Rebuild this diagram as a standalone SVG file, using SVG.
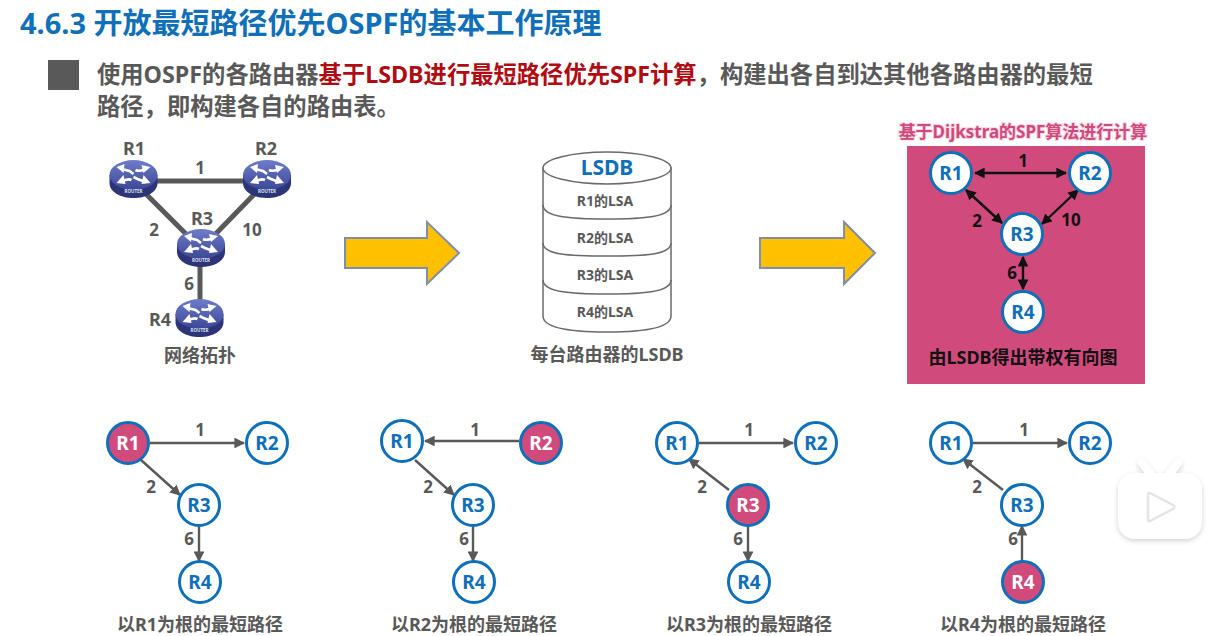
<svg xmlns="http://www.w3.org/2000/svg" width="1221" height="636" viewBox="0 0 1221 636">
<style>
text{font-family:"Noto Sans","Noto Sans CJK SC",sans-serif;font-weight:700;text-anchor:middle}
.grey{fill:#595959}
.blue{fill:#0f6fb8}
.lbl{font-size:17px}
.rn{font-size:18px}
.cap{font-size:18px;fill:#595959}
.lsa{font-size:14px;fill:#595959}
.n{fill:#fff;stroke:#0f6fb8;stroke-width:3}
.root{fill:#d04a7c;stroke:#0f6fb8;stroke-width:3}
.nt{font-size:19px;fill:#0f6fb8}
.rt{font-size:19px;fill:#fff}
.g{stroke:#595959;stroke-width:2.4;fill:none;marker-end:url(#ga)}
.k{stroke:#111;stroke-width:2.4;fill:none;marker-start:url(#ka);marker-end:url(#ka)}
.kl{fill:#111}
.link{stroke:#595959;stroke-width:5;fill:none}
.cyl{fill:#fff;stroke:#6a6a6a;stroke-width:1.5}
.arrow{fill:#ffc000;stroke:#7f8fa9;stroke-width:2}
</style>
<defs>
<marker id="ga" markerWidth="4.500" markerHeight="4.500" refX="4" refY="2.250" orient="auto"><path d="M0 0L4.500 2.250L0 4.500z" fill="#595959"/></marker>
<marker id="ka" markerWidth="4.500" markerHeight="4.500" refX="4" refY="2.250" orient="auto-start-reverse"><path d="M0 0L4.500 2.250L0 4.500z" fill="#111"/></marker>
<linearGradient id="rg" x1="0" y1="0" x2="0" y2="1"><stop offset="0" stop-color="#6e7cc9"/><stop offset="1" stop-color="#3c4796"/></linearGradient>
<filter id="soft" x="-20%" y="-20%" width="140%" height="140%"><feDropShadow dx="0" dy="2" stdDeviation="2.500" flood-color="#000" flood-opacity="0.180"/></filter>
<g id="router">
<path d="M-24-3V5C-24 14-13 20 0 20S24 14 24 5V-3z" fill="#2c3577"/>
<ellipse cx="0" cy="-3" rx="24" ry="15" fill="url(#rg)"/>
<g fill="none" stroke="#fff" stroke-width="2.600">
<path d="M-12-9L-4-7L0-4"/><path d="M12-9Q6-6 2-8"/><path d="M-12 4Q-6 0-2 2"/><path d="M12 4L4 1L0-1"/>
</g>
<g fill="#fff">
<path d="M-17-11L-9-14L-10-5z"/><path d="M17-11L8-13L10-5z"/><path d="M-17 5L-10-3L-8 6z"/><path d="M17 5L10-3L8 6z"/>
</g>
<text y="15" style="font-size:4.500px;fill:#dfe3f5">ROUTER</text>
</g>
</defs>
<rect width="1221" height="636" fill="#fff"/>

<text id="title" x="20" y="34" class="blue" style="font-size:29px;text-anchor:start">4.6.3 开放最短路径优先OSPF的基本工作原理</text>
<rect id="bullet" x="48" y="60" width="31" height="30" fill="#595959"/>
<text x="97" y="83" class="grey" style="font-size:23.300px;text-anchor:start">使用OSPF的各路由器<tspan fill="#b00a12">基于LSDB进行最短路径优先SPF计算</tspan>，构建出各自到达其他各路由器的最短</text>
<text x="97" y="115" class="grey" style="font-size:23.300px;text-anchor:start">路径，即构建各自的路由表。</text>

<!-- physical topology -->
<g id="topology-links">
<path class="link" d="M133 181H267M133 181L201 249M267 181L201 249M200 249V320"/>
</g>
<g id="topo-R1"><use href="#router" x="133.500" y="178"/><text x="134" y="155" class="rn grey">R1</text></g>
<g id="topo-R2"><use href="#router" x="267" y="178"/><text x="266" y="155" class="rn grey">R2</text></g>
<g id="topo-R3"><use href="#router" x="201" y="247"/><text x="202" y="225" class="rn grey">R3</text></g>
<g id="topo-R4"><use href="#router" x="199.500" y="317"/><text x="160" y="326" class="rn grey">R4</text></g>
<g id="topology-labels">
<text x="200" y="174" class="lbl grey">1</text>
<text x="154" y="236" class="lbl grey">2</text>
<text x="252" y="236" class="lbl grey">10</text>
<text x="189" y="290" class="lbl grey">6</text>
<text x="200" y="362" class="cap">网络拓扑</text>
</g>

<!-- block arrows -->
<path id="arrow-1" class="arrow" d="M345 238H427V222L459 253L427 284V268H345z"/>
<path id="arrow-2" class="arrow" d="M760 238H844V222L875 253L844 284V268H760z"/>

<!-- link state database drum -->
<g id="lsdb">
<path class="cyl" d="M543 168V316C543 328 570 332 607 332S671 328 671 316V168z"/>
<path class="cyl" style="fill:none" d="M543 205C543 217 570 219 607 219S671 217 671 205M543 243C543 255 570 256 607 256S671 255 671 243M543 280C543 292 570 294 607 294S671 292 671 280"/>
<ellipse class="cyl" cx="607" cy="168" rx="64" ry="16"/>
<text x="607" y="175" class="blue" style="font-size:21px">LSDB</text>
<text x="605" y="206" class="lsa">R1的LSA</text>
<text x="605" y="243" class="lsa">R2的LSA</text>
<text x="605" y="280" class="lsa">R3的LSA</text>
<text x="605" y="317" class="lsa">R4的LSA</text>
<text x="607" y="361" class="cap">每台路由器的LSDB</text>
</g>

<!-- weighted digraph panel -->
<g id="digraph">
<text x="1023" y="138" style="font-size:17px;fill:#d04a7c;stroke:#f6d9e4;stroke-width:2;paint-order:stroke">基于Dijkstra的SPF算法进行计算</text>
<rect x="907" y="146" width="238" height="238" fill="#d04a7c"/>
<path class="k" d="M975 173H1066"/>
<path class="k" d="M966 190L1002 223"/>
<path class="k" d="M1078 190L1042 224"/>
<path class="k" d="M1023 257V289"/>
<circle class="n" cx="951" cy="173" r="20.500"/><text class="nt" x="951" y="180">R1</text>
<circle class="n" cx="1090" cy="173" r="20.500"/><text class="nt" x="1090" y="180">R2</text>
<circle class="n" cx="1022" cy="234" r="20.500"/><text class="nt" x="1022" y="241">R3</text>
<circle class="n" cx="1023" cy="312" r="20.500"/><text class="nt" x="1023" y="319">R4</text>
<text x="1023" y="167" class="lbl kl">1</text>
<text x="977" y="227" class="lbl kl">2</text>
<text x="1071" y="226" class="lbl kl">10</text>
<text x="1012" y="279" class="lbl kl">6</text>
<text x="1023" y="364" class="kl" style="font-size:18px">由LSDB得出带权有向图</text>
</g>

<!-- shortest path tree rooted at R1 -->
<g id="tree-R1">
<path class="g" d="M150 443H244"/>
<path class="g" d="M141 460L180 495"/>
<path class="g" d="M199 525V561"/>
<circle class="root" cx="128" cy="443" r="20.500"/><text class="rt" x="128" y="450">R1</text>
<circle class="n" cx="267" cy="443" r="20.500"/><text class="nt" x="267" y="450">R2</text>
<circle class="n" cx="199" cy="505" r="20.500"/><text class="nt" x="199" y="512">R3</text>
<circle class="n" cx="200" cy="582" r="20.500"/><text class="nt" x="200" y="589">R4</text>
<text x="200" y="436" class="lbl grey">1</text>
<text x="151" y="493" class="lbl grey">2</text>
<text x="189" y="545" class="lbl grey">6</text>
<text x="200" y="631" class="cap">以R1为根的最短路径</text>
</g>
<!-- shortest path tree rooted at R2 -->
<g id="tree-R2">
<path class="g" d="M519 441H425"/>
<path class="g" d="M415 460L454 495"/>
<path class="g" d="M473 525V561"/>
<circle class="n" cx="402" cy="441" r="20.500"/><text class="nt" x="402" y="448">R1</text>
<circle class="root" cx="541" cy="443" r="20.500"/><text class="rt" x="541" y="450">R2</text>
<circle class="n" cx="473" cy="505" r="20.500"/><text class="nt" x="473" y="512">R3</text>
<circle class="n" cx="474" cy="582" r="20.500"/><text class="nt" x="474" y="589">R4</text>
<text x="475" y="436" class="lbl grey">1</text>
<text x="428" y="493" class="lbl grey">2</text>
<text x="464" y="545" class="lbl grey">6</text>
<text x="474" y="631" class="cap">以R2为根的最短路径</text>
</g>
<!-- shortest path tree rooted at R3 -->
<g id="tree-R3">
<path class="g" d="M699 443H793"/>
<path class="g" d="M729 490L689 459"/>
<path class="g" d="M748 526V561"/>
<circle class="n" cx="677" cy="443" r="20.500"/><text class="nt" x="677" y="450">R1</text>
<circle class="n" cx="816" cy="443" r="20.500"/><text class="nt" x="816" y="450">R2</text>
<circle class="root" cx="748" cy="505" r="20.500"/><text class="rt" x="748" y="512">R3</text>
<circle class="n" cx="749" cy="582" r="20.500"/><text class="nt" x="749" y="589">R4</text>
<text x="749" y="436" class="lbl grey">1</text>
<text x="702" y="493" class="lbl grey">2</text>
<text x="738" y="545" class="lbl grey">6</text>
<text x="749" y="631" class="cap">以R3为根的最短路径</text>
</g>
<!-- shortest path tree rooted at R4 -->
<g id="tree-R4">
<path class="g" d="M973 443H1067"/>
<path class="g" d="M1003 490L963 459"/>
<path class="g" d="M1022 561V526"/>
<circle class="n" cx="951" cy="443" r="20.500"/><text class="nt" x="951" y="450">R1</text>
<circle class="n" cx="1090" cy="443" r="20.500"/><text class="nt" x="1090" y="450">R2</text>
<circle class="n" cx="1022" cy="505" r="20.500"/><text class="nt" x="1022" y="512">R3</text>
<circle class="root" cx="1023" cy="582" r="20.500"/><text class="rt" x="1023" y="589">R4</text>
<text x="1024" y="436" class="lbl grey">1</text>
<text x="977" y="493" class="lbl grey">2</text>
<text x="1013" y="545" class="lbl grey">6</text>
<text x="1023" y="631" class="cap">以R4为根的最短路径</text>
</g>

<!-- player badge -->
<g id="play-badge" filter="url(#soft)">
<path d="M1142 463L1150 473M1178 463L1170 473" stroke="#fff" stroke-width="8" stroke-linecap="round"/>
<rect x="1118" y="473" width="84" height="66" rx="17" fill="#fff"/>
</g>
<path d="M1150 493L1173 505Q1176 507 1173 509L1150 521Q1148 522 1148 519V495Q1148 492 1150 493z" fill="#fff" stroke="#e4e4e4" stroke-width="2.500"/>
</svg>
